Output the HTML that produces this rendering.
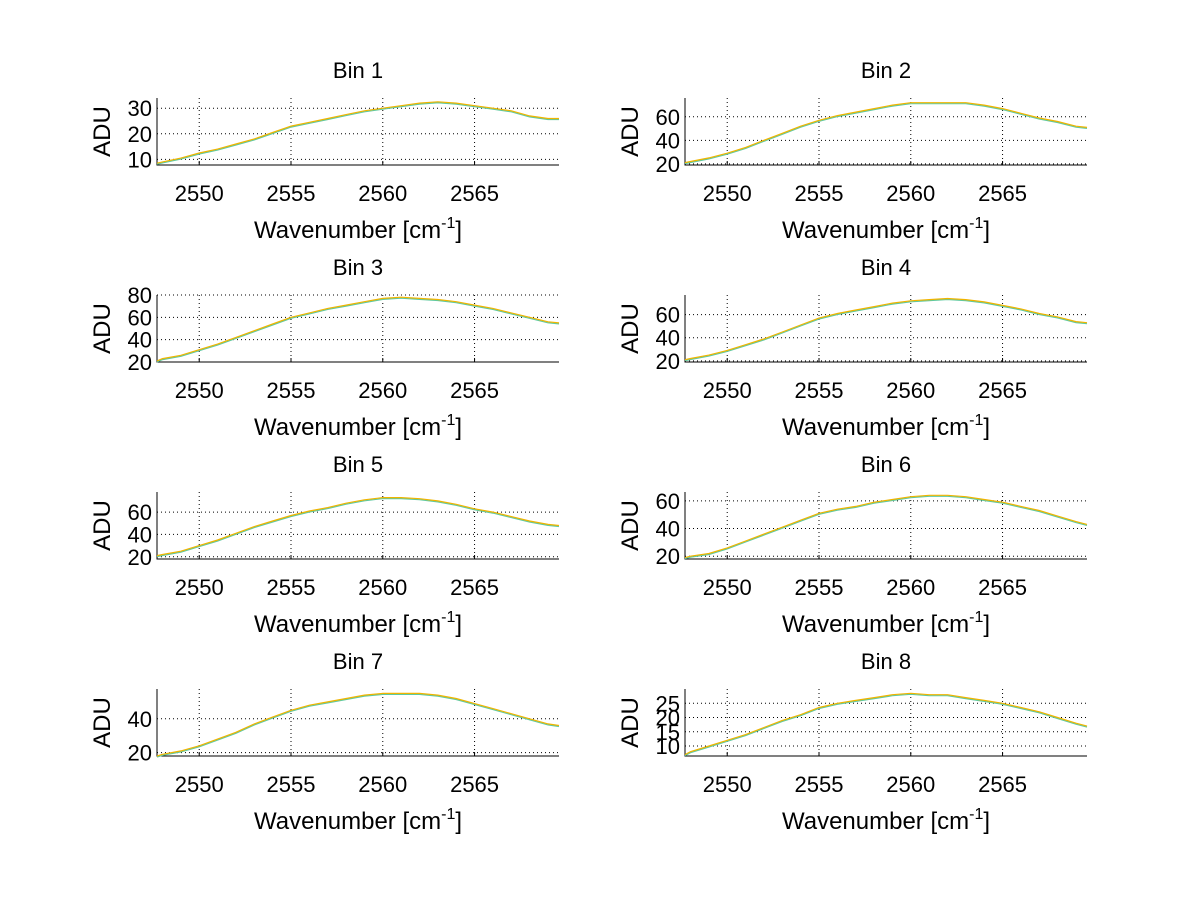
<!DOCTYPE html>
<html><head><meta charset="utf-8">
<style>
html,body{margin:0;padding:0;background:#fff;}
svg{display:block;font-family:"Liberation Sans",Arial,sans-serif;}
</style></head>
<body>
<svg id="fig" width="1200" height="901" viewBox="0 0 1200 901"></svg>
<script>
const xs = [2547.7,2548,2549,2550,2551,2552,2553,2554,2555,2556,2557,2558,2559,2560,2561,2562,2563,2564,2565,2566,2567,2568,2569,2569.6];
const bin1 = [8.5,9,10.5,12.5,14,16,18,20.5,23,24.5,26,27.5,29,30,31,32,32.5,32,31,30,29,27,26,26];
const bin2 = [21,22,25,29,34,40,46,52,57,61,64,67,70,72,72,72,72,70,67,63,59,56,52,51];
const bin3 = [21,23,26,31,36,42,48,54,60,64,68,71,74,77,78,77,76,74,71,68,64,60,56,55];
const bin4 = [21,22,25,29,34,39,45,51,57,61,64,67,70,72,73,74,73,71,68,65,61,58,54,53];
const bin5 = [21,22,25,30,35,41,47,52,57,61,64,68,71,73,73,72,70,67,63,60,56,52,49,48];
const bin6 = [19,20,22,26,31,36,41,46,51,54,56,59,61,63,64,64,63,61,59,56,53,49,45,43];
const bin7 = [18,19,21,24,28,32,37,41,45,48,50,52,54,55,55,55,54,52,49,46,43,40,37,36];
const bin8 = [7,8,10,12,14,16.5,19,21,23.5,25,26,27,28,28.5,28,28,27,26,25,23.5,22,20,18,17];
const series = [bin1,bin2,bin3,bin4,bin5,bin6,bin7,bin8];
const ylims = [[7.8,34],[19,76],[20,80],[19,77],[18,78],[18,66.4],[18,57.6],[6.5,30]];
const yticks = [[10,20,30],[20,40,60],[20,40,60,80],[20,40,60],[20,40,60],[20,40,60],[20,40],[10,15,20,25]];
const xticks = [2550,2555,2560,2565];
const xlim = [2547.7,2569.6];

const NS="http://www.w3.org/2000/svg";
const svg=document.getElementById('fig');
function mk(tag,attrs,parent){const e=document.createElementNS(NS,tag);for(const k in attrs)e.setAttribute(k,attrs[k]);(parent||svg).appendChild(e);return e;}

for(let i=0;i<8;i++){
  const col=i%2,row=Math.floor(i/2);
  const L=157+col*528,R=559+col*528,T=98+row*197,B=165+row*197;
  const g=mk('g',{});
  
  
  const sx=v=>L+(v-xlim[0])/(xlim[1]-xlim[0])*(R-L);
  const sy=v=>B-(v-ylims[i][0])/(ylims[i][1]-ylims[i][0])*(B-T);
  xticks.forEach(t=>{
    const x=sx(t);
    const gl=mk('line',{x1:x,x2:x,y1:T,y2:B,stroke:'#000','stroke-width':1,'stroke-dasharray':'1,3'},g);
    
    
    const tk=mk('line',{x1:x,x2:x,y1:B,y2:B-4,stroke:'#000'},g);
    
    
    const tl=mk('text',{x:x,y:B+36,'font-size':22,'text-anchor':'middle',fill:'#000'},g);
    tl.textContent=t;
    
    
  });
  yticks[i].forEach(t=>{
    const y=sy(t);
    const gl=mk('line',{x1:L,x2:R,y1:y,y2:y,stroke:'#000','stroke-width':1,'stroke-dasharray':'1,3'},g);
    
    
    const tl=mk('text',{x:L-5,y:y+8,'font-size':22,'text-anchor':'end',fill:'#000'},g);
    tl.textContent=t;
    
    
  });
  const ax=mk('path',{d:`M${L},${T} L${L},${B} L${R},${B}`,fill:'none',stroke:'#000','stroke-width':1},g);
  
  
  const pts=xs.map((x,j)=>sx(x).toFixed(1)+','+sy(series[i][j]).toFixed(1)).join(' ');
  const l1=mk('polyline',{points:pts,fill:'none',stroke:'#5fc9a0','stroke-width':1.2,transform:'translate(0,1)'},g);
  
  
  const l2=mk('polyline',{points:pts,fill:'none',stroke:'#f0b400','stroke-width':1.2},g);
  
  
  const tt=mk('text',{x:(L+R)/2,y:T-20,'font-size':22,'text-anchor':'middle',fill:'#000'},g);
  tt.textContent='Bin '+(i+1);
  
  
  const xl=mk('text',{x:(L+R)/2,y:B+73,'font-size':24,'text-anchor':'middle',fill:'#000'},g);
  xl.innerHTML='Wavenumber [cm<tspan dy="-10" font-size="16">-1</tspan><tspan dy="10">]</tspan>';
  
  
  const cy=(T+B)/2, cx=L-47;
  const yl=mk('text',{x:cx,y:cy,'font-size':24,'text-anchor':'middle',fill:'#000',transform:`rotate(-90 ${cx} ${cy})`},g);
  yl.textContent='ADU';
  
  
}
</script>
</body></html>
